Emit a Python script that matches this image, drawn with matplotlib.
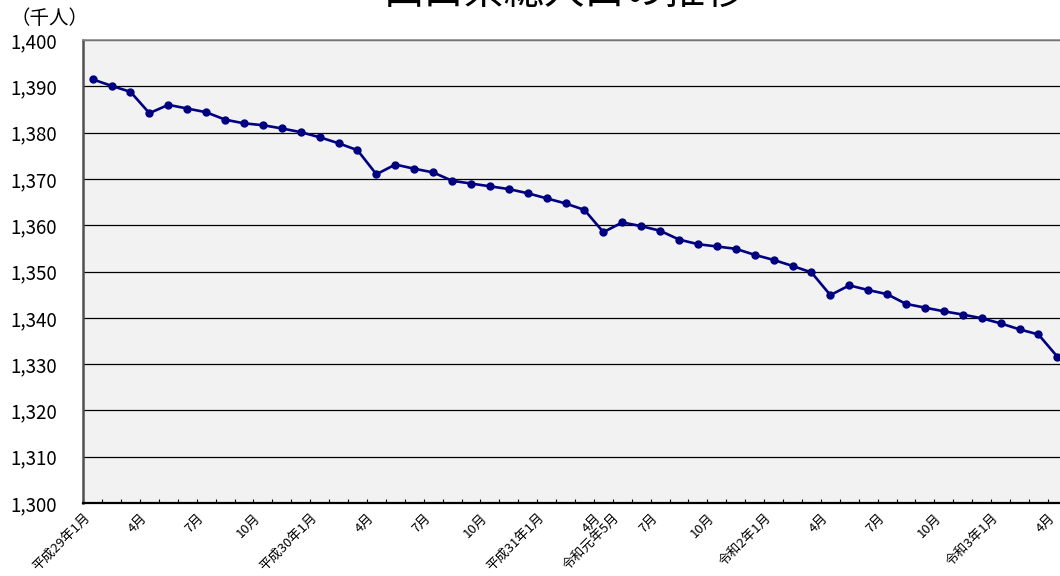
import matplotlib
matplotlib.use("Agg")
import matplotlib.pyplot as plt

plt.rcParams['font.family'] = ['Noto Sans CJK JP', 'DejaVu Sans']

# data (千人), 平成29年1月 - 令和3年4月
population = [1391.5, 1390.1, 1388.8, 1384.2, 1386.0, 1385.2, 1384.4, 1382.8, 1382.0, 1381.6,
              1380.9, 1380.1, 1379.0, 1377.7, 1376.2, 1371.0, 1373.1, 1372.2, 1371.4, 1369.6,
              1369.0, 1368.4, 1367.8, 1366.9, 1365.8, 1364.7, 1363.3, 1358.5, 1360.6, 1359.8,
              1358.8, 1356.9, 1355.9, 1355.4, 1354.9, 1353.6, 1352.5, 1351.2, 1349.8, 1344.9,
              1347.0, 1346.0, 1345.1, 1343.0, 1342.2, 1341.4, 1340.7, 1339.9, 1338.8, 1337.5,
              1336.4, 1331.6]
label_pos = [0, 3, 6, 9, 12, 15, 18, 21, 24, 27, 28, 30, 33, 36, 39, 42, 45, 48, 51]
label_txt = ["平成29年1月", "4月", "7月", "10月", "平成30年1月", "4月", "7月", "10月",
             "平成31年1月", "4月", "令和元年5月", "7月", "10月", "令和2年1月", "4月", "7月",
             "10月", "令和3年1月", "4月"]
yticks = [1300, 1310, 1320, 1330, 1340, 1350, 1360, 1370, 1380, 1390, 1400]

W, H = 1060, 576
fig = plt.figure(figsize=(W / 100, H / 100), dpi=100)
ax = fig.add_axes([83.2 / W, (H - 503) / H, 983.6 / W, 463 / H])
ax.set_facecolor('#f2f2f2')

x = list(range(len(population)))
ax.plot(x, population, color='#000080', lw=1.9, marker='o', ms=5, zorder=3)

ax.set_xlim(-0.5, len(population) - 0.5)
ax.set_ylim(1300, 1400)

ax.set_yticks(yticks)
ax.set_yticklabels([f"{v:,}" for v in yticks], fontsize=13.5)
ax.tick_params(axis='y', length=0, pad=19)
ax.yaxis.grid(True, color='black', lw=0.9)
ax.set_axisbelow(True)

ax.set_xticks(label_pos)
ax.set_xticklabels(label_txt, rotation=45, ha='right', va='top', fontsize=9.5)
ax.set_xticks([i - 0.5 for i in range(len(population) + 1)], minor=True)
ax.tick_params(axis='x', which='major', length=0, pad=6)
ax.tick_params(axis='x', which='minor', direction='in', length=3, width=0.8, color='black')

ax.spines['left'].set_color('#505050')
ax.spines['left'].set_linewidth(1.8)
ax.spines['bottom'].set_color('black')
ax.spines['bottom'].set_linewidth(1.6)
ax.spines['top'].set_color('#8c8c8c')
ax.spines['top'].set_linewidth(1.2)
ax.spines['right'].set_visible(False)

fig.text(49 / W, 1 - 19 / H, "（千人）", fontsize=14, ha='center', va='center')
fig.text(565 / W, 1 - 13 / H, "山口県総人口の推移", fontsize=29, ha='center', va='bottom')

fig.savefig("out.png", dpi=100)
